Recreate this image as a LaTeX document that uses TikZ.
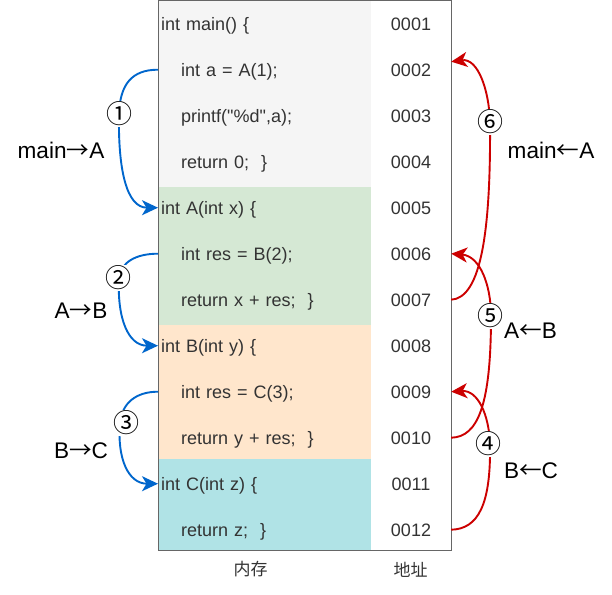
\documentclass[tikz,border=0pt]{standalone}
\usepackage{fontspec}
\setmainfont{Liberation Sans}[Ligatures=TeXOff]
\newfontfamily\cjkfont{Noto Sans CJK SC}
\usetikzlibrary{arrows.meta}
\definecolor{greyfill}{HTML}{F5F5F5}
\definecolor{greenfill}{HTML}{D5E8D4}
\definecolor{orangefill}{HTML}{FFE6CC}
\definecolor{cyanfill}{HTML}{B0E3E6}
\definecolor{bordergrey}{HTML}{666666}
\definecolor{txtgrey}{HTML}{333333}
\definecolor{callblue}{HTML}{0066CC}
\definecolor{retred}{HTML}{CC0000}
\newcommand{\thinarrow}[1]{{\cjkfont #1}}
\begin{document}
\begin{tikzpicture}[x=1pt,y=-1pt,
  codeline/.style={anchor=west, minimum width=213pt, minimum height=46pt, inner xsep=3pt, inner ysep=0pt,
    text width=207pt, align=left, text height=12.9pt, text depth=0pt,
    font=\fontsize{18}{20}\selectfont, text=txtgrey},
  addr/.style={minimum width=80pt, minimum height=46pt, inner sep=0pt, text height=12.9pt, text depth=0pt,
    font=\fontsize{18}{20}\selectfont, text=txtgrey},
  steplabel/.style={inner sep=0pt, text height=16.2pt, text depth=0pt, font=\fontsize{22.6}{24}\selectfont, text=black},
  circnum/.style={fill=white, inner sep=1pt, font=\cjkfont\fontsize{26}{28}\selectfont, text=black},
  foot/.style={inner sep=0pt, font=\cjkfont\fontsize{17}{19}\selectfont, text=txtgrey},
  callarrow/.style={draw=callblue, line width=1.9pt, -{Stealth[length=16pt,width=15pt,inset=4.5pt]}},
  retarrow/.style={draw=retred, line width=1.9pt, -{Stealth[length=16pt,width=15pt,inset=4.5pt]}}
]
\useasboundingbox (0,0) rectangle (612,594);
% section fills
\fill[greyfill]   (158,1) rectangle (371,187);
\fill[greenfill]  (158,187) rectangle (371,325);
\fill[orangefill] (158,325) rectangle (371,459);
\fill[cyanfill]   (158,459) rectangle (371,550);
\draw[bordergrey, line width=1pt] (158,1) rectangle (451,550);
% code rows
\node[codeline] (r1)  at (158,23.7)  {int main() \{};
\node[codeline] (r2)  at (158,69.7)  {\hspace*{20pt}int a = A(1);};
\node[codeline] (r3)  at (158,115.7) {\hspace*{20pt}printf("\%d",a);};
\node[codeline] (r4)  at (158,161.7) {\hspace*{20pt}return 0;\ \ \}};
\node[codeline] (r5)  at (158,207.7) {int A(int x) \{};
\node[codeline] (r6)  at (158,253.7) {\hspace*{20pt}int res = B(2);};
\node[codeline] (r7)  at (158,299.7) {\hspace*{20pt}return x + res;\ \ \}};
\node[codeline] (r8)  at (158,345.7) {int B(int y) \{};
\node[codeline] (r9)  at (158,391.7) {\hspace*{20pt}int res = C(3);};
\node[codeline] (r10) at (158,437.7) {\hspace*{20pt}return y + res;\ \ \}};
\node[codeline] (r11) at (158,483.7) {int C(int z) \{};
\node[codeline] (r12) at (158,529.7) {\hspace*{20pt}return z;\ \ \}};
% addresses
\node[addr] (a1)  at (411,23.7)  {0001};
\node[addr] (a2)  at (411,69.7)  {0002};
\node[addr] (a3)  at (411,115.7) {0003};
\node[addr] (a4)  at (411,161.7) {0004};
\node[addr] (a5)  at (411,207.7) {0005};
\node[addr] (a6)  at (411,253.7) {0006};
\node[addr] (a7)  at (411,299.7) {0007};
\node[addr] (a8)  at (411,345.7) {0008};
\node[addr] (a9)  at (411,391.7) {0009};
\node[addr] (a10) at (411,437.7) {0010};
\node[addr] (a11) at (411,483.7) {0011};
\node[addr] (a12) at (411,529.7) {0012};
% footer labels
\node[foot] (memlbl)  at (250.5,569.5) {内存};
\node[foot] (addrlbl) at (410.5,569.5) {地址};
% call arrows
\draw[callarrow] (r2.west) .. controls (132,69.7) and (120,84) .. (119,114) .. controls (118,168) and (126,207.7) .. (r5.west);
\draw[callarrow] (r6.west) .. controls (136,253.7) and (121,262) .. (119,278) .. controls (117,318) and (128,345.7) .. (r8.west);
\draw[callarrow] (r9.west) .. controls (136,391.7) and (122,403) .. (120,423) .. controls (117,458) and (128,483.7) .. (r11.west);
% return arrows
\draw[retarrow] (a7.east) .. controls (478,298) and (491,245) .. (490,122) .. controls (489,90) and (478,58) .. ([yshift=8pt]a2.east);
\draw[retarrow] (a10.east) .. controls (478,437) and (491,405) .. (491,316) .. controls (491,285) and (480,256) .. (a6.east);
\draw[retarrow] (a12.east) .. controls (478,529) and (491,505) .. (490,444) .. controls (489,415) and (478,390) .. (a9.east);
% circled step numbers
\node[circnum] (c1) at (119,114) {①};
\node[circnum] (c2) at (118.5,278) {②};
\node[circnum] (c3) at (126.7,423) {③};
\node[circnum] (c4) at (488.7,444) {④};
\node[circnum] (c5) at (490.7,316) {⑤};
\node[circnum] (c6) at (490,121.7) {⑥};
% direction labels
\node[steplabel] (l1) at (61,150)  {main\thinarrow{→}A};
\node[steplabel] (l6) at (551,150.5) {main\thinarrow{←}A};
\node[steplabel] (l2) at (81,310)  {A\thinarrow{→}B};
\node[steplabel] (l5) at (530.5,330) {A\thinarrow{←}B};
\node[steplabel] (l3) at (81,450)  {B\thinarrow{→}C};
\node[steplabel] (l4) at (531,470) {B\thinarrow{←}C};
\end{tikzpicture}
\end{document}
